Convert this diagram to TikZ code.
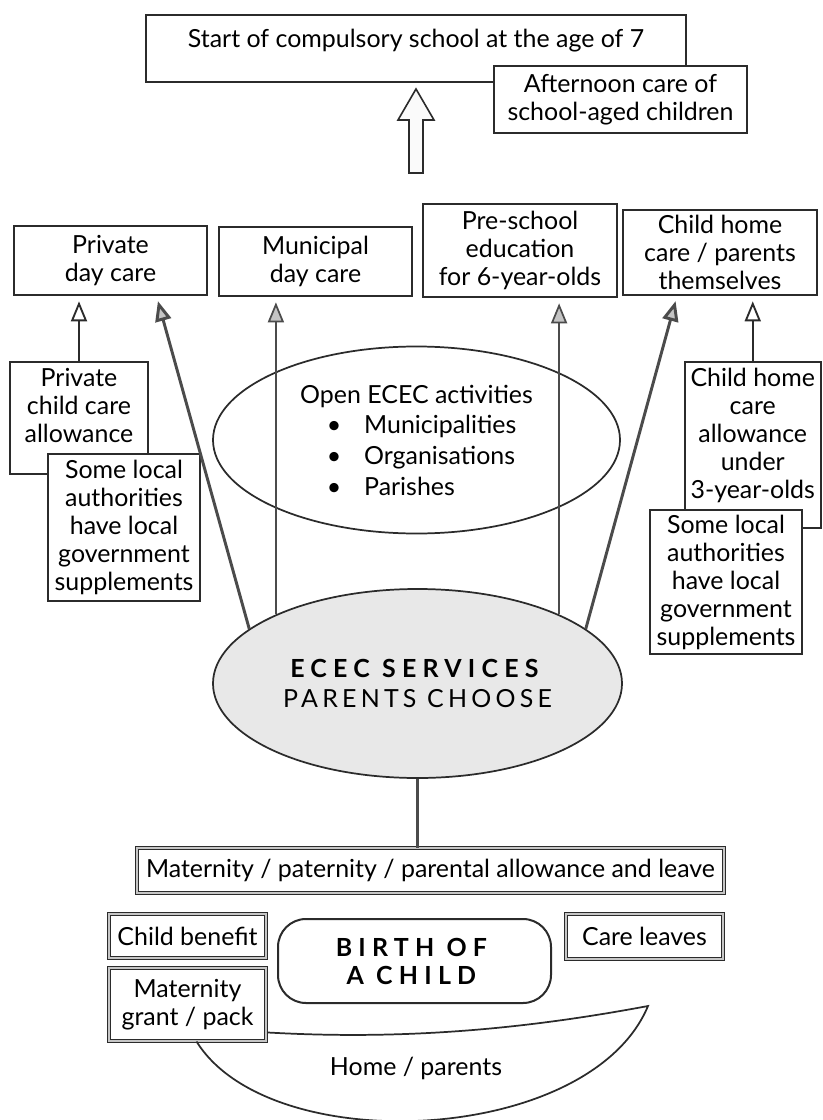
\documentclass[tikz,border=0pt]{standalone}
\usepackage{fontspec}
\setmainfont{Lato}
\usetikzlibrary{arrows.meta,calc,shapes.geometric}
\definecolor{ink}{HTML}{2b2b2b}
\definecolor{headgray}{HTML}{c4c4c4}
\definecolor{ovalfill}{HTML}{e8e8e8}
\newcommand\boxfont{\fontsize{18.7}{21}\selectfont}
\newcommand\spaced[2][17]{{\addfontfeature{LetterSpace=#1}#2}}
\tikzset{
  box/.style={draw=ink, line width=1.5pt, fill=white, inner sep=0pt, align=center, font=\boxfont},
  sz/.style 2 args={minimum width=#1*0.75pt, minimum height=#2*0.75pt},
  dblbox/.style={box, line width=0.7pt, double=gray!45, double distance=0.9pt},
  oval/.style={ellipse, draw=ink, line width=1.3pt, inner sep=0pt, font=\boxfont},
  whitearrow/.style={draw=ink, line width=1.4pt, shorten >=4pt, -{Triangle[length=15pt,width=12pt,fill=white]}},
  grayarrow/.style={draw=ink!85, line width=2.2pt, shorten >=4pt, -{Triangle[length=15pt,width=12pt,fill=headgray]}},
  grayline/.style={grayarrow, line width=1.3pt}
}

\begin{document}
\begin{tikzpicture}[x=0.75pt,y=-0.75pt]
  \useasboundingbox[fill=white] (0,0) rectangle (822,1120);

  % school at the top
  \node[box, sz={540}{67}, text height=24.5pt, text depth=25.5pt] (school) at (416,48.5)
    {Start of compulsory school at the age of 7};
  \node[box, sz={253}{67}] (afternoon) at (620.5,99.5) {Afternoon care of\\school-aged children};
  \draw[ink, line width=1.2pt, fill=gray!4] (409,173) -- (409,120) -- (398,120) -- (416,89)
    -- (434,120) -- (423,120) -- (423,173) -- cycle;

  % the four choices
  \node[box, sz={193}{69}] (privdc) at (110.5,260.5) {Private\\day care};
  \node[box, sz={193}{69}] (munidc) at (315.5,261.5) {Municipal\\day care};
  \node[box, sz={194}{93}] (presch) at (520,250.5) {Pre-school\\education\\for 6-year-olds};
  \node[box, sz={194}{85}] (homecare) at (720,252.5) {Child home\\care / parents\\themselves};

  % allowances on the sides
  \node[box, sz={138}{112}, anchor=north] (privallow) at (79,361) {};
  \node[font=\boxfont, align=center, anchor=north, inner sep=0pt] (privallowtxt) at (79,368)
    {Private\\child care\\allowance};
  \node[box, sz={152}{147}] (privsupp) at (124,527.5)
    {Some local\\authorities\\have local\\government\\supplements};
  \node[box, sz={135.5}{166}, anchor=north] (homeallow) at (752.75,361) {};
  \node[font=\boxfont, align=center, anchor=north, inner sep=0pt] (homeallowtxt) at (752.75,368)
    {Child home\\care\\allowance\\under\\3-year-olds};
  \node[box, sz={152}{144}] (homesupp) at (726,582)
    {Some local\\authorities\\have local\\government\\supplements};

  % the two ovals
  \node[oval, sz={407}{187}, align=left, font=\fontsize{18.7}{23}\selectfont] (openecec) at (416.5,440)
    {Open ECEC activities\\
     \makebox[48pt][l]{\hspace{20pt}\textbullet}Municipalities\\
     \makebox[48pt][l]{\hspace{20pt}\textbullet}Organisations\\
     \makebox[48pt][l]{\hspace{20pt}\textbullet}Parishes};
  \node[oval, sz={409}{189}, fill=ovalfill, align=center, font=\fontsize{18.7}{22.5}\selectfont] (ecec) at (417.5,683.5)
    {\spaced[25]{\textbf{ECEC SERVICES}}\\\spaced{PARENTS CHOOSE}};

  \draw[whitearrow] (privallow.north) -- (privallow.north |- privdc.south);
  \draw[grayarrow] (ecec.162) -- ($(privdc.south)+(46,0)$);
  \draw[grayline] (ecec.154) -- (ecec.154 |- munidc.south);
  \draw[grayline] (ecec.26.5) -- (ecec.26.5 |- presch.south);
  \draw[grayarrow] (ecec.18) -- ($(homecare.south)+(-43,0)$);
  \draw[whitearrow] (homeallow.north) -- (homeallow.north |- homecare.south);

  % around the birth
  \node[dblbox, sz={587}{45}] (mat) at (430.5,870.5)
    {Maternity / paternity / parental allowance and leave};
  \draw[ink!85, line width=1.8pt] (ecec.south) -- (ecec.south |- mat.north);
  \node[dblbox, sz={157}{44}] (childben) at (187.5,936) {Child benefit};
  \node[dblbox, sz={157}{73}] (grant) at (187.5,1004.5) {Maternity\\grant / pack};
  \node[dblbox, sz={157}{45}] (careleave) at (644.5,936.5) {Care leaves};
  \node[box, sz={273}{84}, rounded corners=21pt] (birth) at (414.5,961)
    {\spaced[25]{\textbf{BIRTH OF}}\\\spaced[25]{\textbf{A CHILD}}};

  \draw[ink, line width=1.3pt] ($(grant.south east)+(1,-9)$)
    .. controls (400,1040) and (520,1030) .. (648,1006)
    .. controls (590,1145) and (270,1160) .. ($(grant.south west)+(88,0)$);
  \node[font=\boxfont] (homepar) at (416,1068) {Home / parents};
\end{tikzpicture}
\end{document}
